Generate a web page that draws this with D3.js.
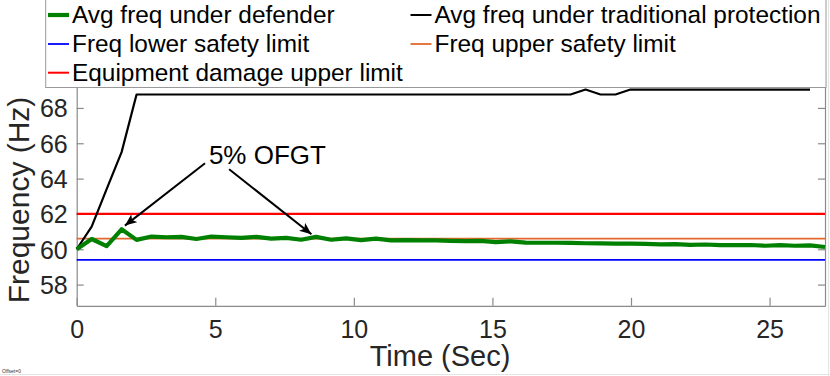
<!DOCTYPE html>
<html><head><meta charset="utf-8">
<script src="https://cdn.jsdelivr.net/npm/d3@7"></script>
<style>html,body{margin:0;padding:0;background:#fff;overflow:hidden}text{font-family:"Liberation Sans",Arial,sans-serif}</style>
</head><body><svg id="c" width="830" height="376"></svg>
<script>
const times = [0,0.54,1.08,1.62,2.16,2.70,3.24,3.78,4.32,4.86,5.40,5.94,6.48,7.02,7.56,8.10,8.64,9.18,9.72,10.26,10.80,11.34,11.88,12.42,12.96,13.50,14.04,14.58,15.12,15.66,16.20,16.74,17.28,17.82,18.36,18.90,19.44,19.98,20.52,21.06,21.60,22.14,22.68,23.22,23.76,24.30,24.84,25.38,25.92,26.46,27.00];
const defenderFreq = [60.00,60.58,60.18,61.13,60.53,60.72,60.68,60.70,60.58,60.72,60.68,60.64,60.70,60.60,60.64,60.54,60.70,60.54,60.62,60.52,60.60,60.50,60.52,60.50,60.50,60.48,60.46,60.47,60.40,60.45,60.38,60.37,60.37,60.36,60.34,60.33,60.32,60.32,60.31,60.28,60.29,60.25,60.27,60.23,60.24,60.24,60.20,60.23,60.20,60.22,60.13];
const traditionalFreq = [60.00,61.28,63.40,65.50,68.76,68.76,68.76,68.76,68.76,68.76,68.76,68.76,68.76,68.76,68.76,68.76,68.76,68.76,68.76,68.76,68.76,68.76,68.76,68.76,68.76,68.76,68.76,68.76,68.76,68.76,68.76,68.76,68.76,68.76,69.04,68.76,68.76,69.04,69.04,69.04,69.04,69.04,69.04,69.04,69.04,69.04,69.04,69.04,69.04,69.04];
const lowerLimit = 59.4, upperLimit = 60.6, damageLimit = 62.0;
const xTicks = [0,5,10,15,20,25];
const yTicks = [58,60,62,64,66,68];
const legendLabels = ["Avg freq under defender","Avg freq under traditional protection","Freq lower safety limit","Freq upper safety limit","Equipment damage upper limit"];
const annotationText = "5% OFGT";
const annotationTextPos = [4.77, 64.80];
const arrows = [[[4.63,64.87],[1.74,61.34]],[[5.50,64.53],[8.47,60.85]]];

const svg = d3.select("#c");
const L = 76.7, R = 825, T = 72.6, B = 305.8;
const x = d3.scaleLinear().domain([0,27]).range([L,R]);
const y = d3.scaleLinear().domain([56.8,70]).range([B,T]);
const axisCol = "#8a8a8a", textCol = "#262626";
const colors = {def:"#008000", trad:"#000000", low:"#0000ff", up:"#e2682e", dmg:"#ff0000"};

// figure edges
svg.append("line").attr("x1",0).attr("x2",830).attr("y1",374.5).attr("y2",374.5).attr("stroke","#e4e4e4");
svg.append("line").attr("x1",828.5).attr("x2",828.5).attr("y1",0).attr("y2",376).attr("stroke","#e4e4e4");

const g = svg.append("g");
// axes
const xa = g.append("g").attr("transform",`translate(0,${B})`).call(d3.axisBottom(x).tickValues(xTicks).tickSize(-8).tickSizeOuter(0).tickPadding(14));
const ya = g.append("g").attr("transform",`translate(${L},0)`).call(d3.axisLeft(y).tickValues(yTicks).tickSize(-7).tickSizeOuter(0).tickPadding(9));
const yr = g.append("g").attr("transform",`translate(${R},0)`).call(d3.axisRight(y).tickValues(yTicks).tickSize(-7).tickSizeOuter(0).tickFormat(""));
[xa,ya,yr].forEach(a=>{a.select(".domain").attr("stroke",axisCol).attr("stroke-width",1.2);a.selectAll(".tick line").attr("stroke",axisCol).attr("stroke-width",1.2);a.selectAll("text").attr("fill",textCol).style("font-size","25px").style("font-family",'"Liberation Sans",Arial,sans-serif');});
xa.selectAll("text").attr("dy","0.71em");
ya.selectAll("text").attr("dy","0.36em");
g.append("line").attr("x1",L).attr("x2",R).attr("y1",T).attr("y2",T).attr("stroke",axisCol).attr("stroke-width",1.2);

// limits
[[lowerLimit,colors.low,1.8],[upperLimit,colors.up,1.8],[damageLimit,colors.dmg,2.2]].forEach(([v,c,w])=>{
  g.append("line").attr("x1",x(0)).attr("x2",x(27)).attr("y1",y(v)).attr("y2",y(v)).attr("stroke",c).attr("stroke-width",w);
});
const line = d3.line().x((d,i)=>x(times[i])).y(d=>y(d));
g.append("path").datum(traditionalFreq).attr("d",line).attr("fill","none").attr("stroke",colors.trad).attr("stroke-width",2.2).attr("stroke-linejoin","round");
g.append("path").datum(defenderFreq).attr("d",line).attr("fill","none").attr("stroke",colors.def).attr("stroke-width",4.2).attr("stroke-linejoin","round");

// annotation
svg.append("defs").append("marker").attr("id","ah").attr("viewBox","0 0 12 10").attr("refX",12).attr("refY",5)
  .attr("markerWidth",12).attr("markerHeight",10).attr("markerUnits","userSpaceOnUse").attr("orient","auto")
  .append("path").attr("d","M0,0 L12,5 L0,10 L3,5 Z").attr("fill","#000");
arrows.forEach(([s,e])=>{
  g.append("line").attr("x1",x(s[0])).attr("y1",y(s[1])).attr("x2",x(e[0])).attr("y2",y(e[1])).attr("stroke","#000").attr("stroke-width",2).attr("marker-end","url(#ah)");
});
g.append("text").attr("x",x(annotationTextPos[0])).attr("y",y(annotationTextPos[1])).text(annotationText).style("font-size","26px").attr("fill","#000");

// labels
svg.append("text").attr("x",440).attr("y",366).attr("text-anchor","middle").style("font-size","29px").attr("fill",textCol).text("Time (Sec)");
svg.append("text").attr("transform","translate(28.5,200) rotate(-90)").attr("text-anchor","middle").style("font-size","30px").attr("fill",textCol).text("Frequency (Hz)");
svg.append("text").attr("x",2).attr("y",373).style("font-size","5px").attr("fill","#333").text("Offset=0");

// legend
const lg = svg.append("g");
lg.append("rect").attr("x",45.7).attr("y",-2).attr("width",780.3).attr("height",89.5).attr("fill","#fff").attr("stroke","#999").attr("stroke-width",1);
const legItems = [
  {label:legendLabels[0],color:colors.def,w:4.2,col:0,row:0},
  {label:legendLabels[1],color:colors.trad,w:2,col:1,row:0},
  {label:legendLabels[2],color:colors.low,w:1.8,col:0,row:1},
  {label:legendLabels[3],color:colors.up,w:1.8,col:1,row:1},
  {label:legendLabels[4],color:colors.dmg,w:2,col:0,row:2}
];
const colX = [48,410.5], rowY = [15,44,72.7];
legItems.forEach(d=>{
  const x0 = colX[d.col], yy = rowY[d.row];
  lg.append("line").attr("x1",x0).attr("x2",x0+21).attr("y1",yy).attr("y2",yy).attr("stroke",d.color).attr("stroke-width",d.w);
  lg.append("text").attr("x",x0+24).attr("y",yy+8.4).style("font-size","24.4px").attr("fill","#000").text(d.label);
});
</script></body></html>
